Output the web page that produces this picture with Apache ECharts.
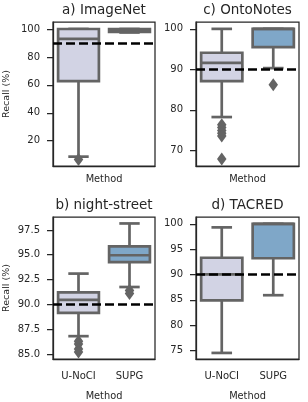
<!DOCTYPE html>
<html>
<head>
<meta charset="utf-8">
<script src="https://cdn.jsdelivr.net/npm/echarts@6/dist/echarts.min.js"></script>
<style>
  html, body { margin: 0; padding: 0; background: #fff; }
  #chart { width: 308px; height: 402px; }
</style>
</head>
<body>
<div id="chart"></div>
<script>
// categories on every x axis
const methods = ['U-NoCI', 'SUPG'];

// box stats per method: [lower whisker, q1, median, q3, upper whisker]
const imagenetBoxes = [[8.6, 62.6, 92.9, 100, 100], [97.5, 97.9, 99.0, 99.9, 100]];
const imagenetOutliers = [[6.6], []];

const ontonotesBoxes = [[78.2, 87.1, 91.6, 94.1, 100], [90.3, 95.5, 100, 100, 100]];
const ontonotesOutliers = [[76.3, 75.6, 74.9, 74.2, 73.5, 67.8], [86.2]];

const nightStreetBoxes = [[86.8, 89.15, 90.45, 91.2, 93.1], [91.75, 94.25, 94.95, 95.85, 98.15]];
const nightStreetOutliers = [[86.3, 86.0, 85.5, 85.2], [91.4, 91.1]];

const tacredBoxes = [[74.5, 84.9, 90.0, 93.3, 99.3], [85.9, 93.2, 100, 100, 100]];
const tacredOutliers = [[], []];

// tick labels and axis ranges of each panel
const imagenetTicks = [20, 40, 60, 80, 100];
const ontonotesTicks = [70, 80, 90, 100];
const nightStreetTicks = [85, 87.5, 90, 92.5, 95, 97.5];
const tacredTicks = [75, 80, 85, 90, 95, 100];

const imagenetRange = [1.9, 105];
const ontonotesRange = [66.1, 101.7];
const nightStreetRange = [84.5, 98.8];
const tacredRange = [73.3, 101.35];

const targetRecall = 90;

const FONT = 'DejaVu Sans';
const INK = '#262626';
const EDGE = '#646464';
const boxFill = ['#d2d3e4', '#7fa7c8'];

const panels = [
  { title: 'a) ImageNet', boxes: imagenetBoxes, outliers: imagenetOutliers, ticks: imagenetTicks, range: imagenetRange,
    left: 53, top: 22, width: 102, height: 144, yName: true, xLabels: false, dec: 0 },
  { title: 'c) OntoNotes', boxes: ontonotesBoxes, outliers: ontonotesOutliers, ticks: ontonotesTicks, range: ontonotesRange,
    left: 196, top: 22, width: 103, height: 144, yName: false, xLabels: false, dec: 0 },
  { title: 'b) night-street', boxes: nightStreetBoxes, outliers: nightStreetOutliers, ticks: nightStreetTicks, range: nightStreetRange,
    left: 53, top: 217, width: 102, height: 143, yName: true, xLabels: true, dec: 1 },
  { title: 'd) TACRED', boxes: tacredBoxes, outliers: tacredOutliers, ticks: tacredTicks, range: tacredRange,
    left: 196, top: 217, width: 103, height: 143, yName: false, xLabels: true, dec: 0 }
];

function renderBox(params, api) {
  const cat = api.value(0);
  const p = [1, 2, 3, 4, 5].map(i => api.coord([cat, api.value(i)]));
  const cx = p[0][0];
  const bw = api.size([1, 0])[0] * 0.8;
  const st = { stroke: EDGE, lineWidth: 2.7 };
  return {
    type: 'group',
    children: [
      { type: 'line', shape: { x1: cx, y1: p[1][1], x2: cx, y2: p[0][1] }, style: st },
      { type: 'line', shape: { x1: cx, y1: p[3][1], x2: cx, y2: p[4][1] }, style: st },
      { type: 'line', shape: { x1: cx - bw / 4, y1: p[0][1], x2: cx + bw / 4, y2: p[0][1] }, style: st },
      { type: 'line', shape: { x1: cx - bw / 4, y1: p[4][1], x2: cx + bw / 4, y2: p[4][1] }, style: st },
      { type: 'rect', shape: { x: cx - bw / 2, y: p[3][1], width: bw, height: p[1][1] - p[3][1] },
        style: { fill: boxFill[cat], stroke: EDGE, lineWidth: 2.7 } },
      { type: 'line', shape: { x1: cx - bw / 2, y1: p[2][1], x2: cx + bw / 2, y2: p[2][1] }, style: st }
    ]
  };
}

const grid = [], xAxis = [], yAxis = [], series = [], graphic = [];

panels.forEach((pn, i) => {
  grid.push({ left: pn.left, top: pn.top, width: pn.width, height: pn.height,
    show: true, borderColor: INK, borderWidth: 1.25, backgroundColor: 'transparent' });

  xAxis.push({
    type: 'category', gridIndex: i, data: methods, boundaryGap: true,
    name: 'Method', nameLocation: 'middle', nameGap: pn.xLabels ? 32 : 8,
    nameTextStyle: { fontFamily: FONT, fontSize: 9.8, color: INK },
    axisLine: { lineStyle: { color: INK, width: 1.25 } },
    axisTick: { alignWithLabel: true, length: 6, lineStyle: { color: INK, width: 1.25 } },
    axisLabel: { show: pn.xLabels, margin: 12, fontFamily: FONT, fontSize: 10, color: INK },
    splitLine: { show: false }
  });

  yAxis.push({
    type: 'value', gridIndex: i, min: pn.range[0], max: pn.range[1],
    name: pn.yName ? 'Recall (%)' : '', nameLocation: 'middle', nameGap: 41,
    nameTextStyle: { fontFamily: FONT, fontSize: 9.5, color: INK },
    axisLine: { show: true, lineStyle: { color: INK, width: 1.25 } },
    axisTick: { show: true, length: 6, customValues: pn.ticks, lineStyle: { color: INK, width: 1.25 } },
    axisLabel: { margin: 13, customValues: pn.ticks, fontFamily: FONT, fontSize: 10, color: INK,
      formatter: v => v.toFixed(pn.dec) },
    splitLine: { show: false }
  });

  series.push({
    type: 'custom', xAxisIndex: i, yAxisIndex: i, z: 2,
    renderItem: renderBox,
    encode: { x: 0, y: [1, 2, 3, 4, 5] },
    data: pn.boxes.map((b, c) => [c].concat(b))
  });

  const pts = [];
  pn.outliers.forEach((vals, c) => vals.forEach(v => pts.push([c, v])));
  series.push({
    type: 'scatter', xAxisIndex: i, yAxisIndex: i, z: 5,
    symbol: 'diamond', symbolSize: [9.5, 13],
    itemStyle: { color: EDGE, opacity: 1 },
    data: pts,
    markLine: {
      silent: true, symbol: 'none', label: { show: false },
      lineStyle: { color: '#000', type: [9, 4], width: 2.6 },
      data: [{ yAxis: targetRecall }]
    }
  });

  graphic.push({
    type: 'text', x: pn.left + pn.width / 2, y: pn.top - 12,
    style: { text: pn.title, fontFamily: FONT, fontSize: 13.5, fill: INK,
      align: 'center', verticalAlign: 'middle' }
  });
});

const chart = echarts.init(document.getElementById('chart'), null, { renderer: 'canvas' });
chart.setOption({
  animation: false,
  backgroundColor: '#fff',
  grid, xAxis, yAxis, series, graphic
});
</script>
</body>
</html>
